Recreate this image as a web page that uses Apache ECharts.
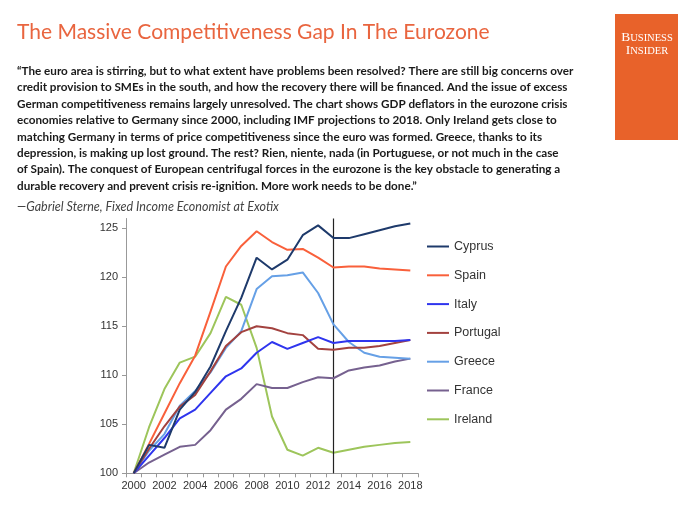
<!DOCTYPE html>
<html>
<head>
<meta charset="utf-8">
<script src="https://cdn.jsdelivr.net/npm/echarts@6/dist/echarts.min.js"></script>
<style>
html,body{margin:0;padding:0;background:#fff;}
#c{width:700px;height:525px;}
</style>
</head>
<body>
<div id="c"></div>
<script>
var years = ['2000','2001','2002','2003','2004','2005','2006','2007','2008','2009','2010','2011','2012','2013','2014','2015','2016','2017','2018'];
var yTicks = [100, 105, 110, 115, 120, 125];
var cyprus   = [100, 102.9, 102.6, 106.5, 108.3, 110.9, 114.5, 117.9, 122.0, 120.8, 121.8, 124.3, 125.3, 124.0, 124.0, 124.4, 124.8, 125.2, 125.5];
var spain    = [100, 103.0, 106.1, 109.2, 112.0, 116.5, 121.1, 123.2, 124.7, 123.6, 122.8, 122.9, 122.0, 121.0, 121.1, 121.1, 120.9, 120.8, 120.7];
var italy    = [100, 101.8, 103.6, 105.6, 106.5, 108.2, 109.9, 110.7, 112.3, 113.4, 112.7, 113.3, 113.9, 113.3, 113.5, 113.5, 113.5, 113.5, 113.6];
var portugal = [100, 102.5, 104.8, 106.8, 108.0, 110.4, 113.0, 114.4, 115.0, 114.8, 114.3, 114.1, 112.7, 112.6, 112.8, 112.8, 113.0, 113.3, 113.6];
var greece   = [100, 102.3, 104.0, 106.9, 108.4, 110.3, 112.8, 114.5, 118.8, 120.1, 120.2, 120.5, 118.4, 115.2, 113.4, 112.3, 111.9, 111.8, 111.7];
var france   = [100, 101.1, 101.9, 102.7, 102.9, 104.4, 106.5, 107.6, 109.1, 108.7, 108.7, 109.3, 109.8, 109.7, 110.5, 110.8, 111.0, 111.4, 111.7];
var ireland  = [100, 104.7, 108.6, 111.3, 111.9, 114.3, 118.0, 117.2, 112.8, 105.8, 102.4, 101.8, 102.6, 102.1, 102.4, 102.7, 102.9, 103.1, 103.2];
var projectionStart = '2013';

var seriesNames = ['Cyprus','Spain','Italy','Portugal','Greece','France','Ireland'];
var seriesData = [cyprus, spain, italy, portugal, greece, france, ireland];
var seriesColors = ['#1E3A6B','#F9603B','#2F35EE','#A3423F','#66A0E6','#76618F','#9DC55B'];

var titleText = 'The Massive Competitiveness Gap In The Eurozone';
var quoteLines = [
  '\u201CThe euro area is stirring, but to what extent have problems been resolved? There are still big concerns over',
  'credit provision to SMEs in the south, and how the recovery there will be financed. And the issue of excess',
  'German competitiveness remains largely unresolved. The chart shows GDP deflators in the eurozone crisis',
  'economies relative to Germany since 2000, including IMF projections to 2018. Only Ireland gets close to',
  'matching Germany in terms of price competitiveness since the euro was formed. Greece, thanks to its',
  'depression, is making up lost ground. The rest? Rien, niente, nada (in Portuguese, or not much in the case',
  'of Spain). The conquest of European centrifugal forces in the eurozone is the key obstacle to generating a',
  'durable recovery and prevent crisis re-ignition. More work needs to be done.\u201D'
];
var attribution = '\u2014Gabriel Sterne, Fixed Income Economist at Exotix';

// fit font sizes to target widths
var cv = document.createElement('canvas').getContext('2d');
function fitSize(text, family, weight, style, target) {
  cv.font = (style||'normal') + ' ' + (weight||'normal') + ' 20px ' + family;
  var w = cv.measureText(text).width;
  return 20 * target / w;
}
var titleFam = 'Lato, "Open Sans", sans-serif';
var quoteFam = 'Lato, "Open Sans", sans-serif';
var titleSize = fitSize(titleText, titleFam, 'normal', 'normal', 473);
var quoteSize = fitSize(quoteLines[0], quoteFam, 'bold', 'normal', 557);
var attrSize = fitSize(attribution, quoteFam, 'normal', 'italic', 262);

var graphics = [];
graphics.push({type:'text', silent:true, style:{x:17, y:32, text:titleText, fill:'#E9653F', font:'normal ' + titleSize.toFixed(2) + 'px ' + titleFam, verticalAlign:'middle', align:'left'}});
for (var i = 0; i < quoteLines.length; i++) {
  graphics.push({type:'text', silent:true, style:{x:17, y:71 + i*16.45, text:quoteLines[i], fill:'#1a1a1a', font:'bold ' + quoteSize.toFixed(2) + 'px ' + quoteFam, verticalAlign:'middle', align:'left'}});
}
graphics.push({type:'text', silent:true, style:{x:17, y:207, text:attribution, fill:'#444', font:'italic normal ' + attrSize.toFixed(2) + 'px ' + quoteFam, verticalAlign:'middle', align:'left'}});
graphics.push({type:'rect', silent:true, shape:{x:615, y:14, width:63, height:126}, style:{fill:'#E8622A'}});
graphics.push({type:'text', silent:true, style:{x:647, y:37, text:'{b|B}{s|USINESS}', fill:'#fff', align:'center', verticalAlign:'middle',
  rich:{b:{fontFamily:'"Liberation Serif", serif', fontSize:13.5, fill:'#fff', verticalAlign:'bottom'}, s:{fontFamily:'"Liberation Serif", serif', fontSize:10.5, fill:'#fff', verticalAlign:'bottom'}}}});
graphics.push({type:'text', silent:true, style:{x:647, y:50, text:'{b|I}{s|NSIDER}', fill:'#fff', align:'center', verticalAlign:'middle',
  rich:{b:{fontFamily:'"Liberation Serif", serif', fontSize:13.5, fill:'#fff', verticalAlign:'bottom'}, s:{fontFamily:'"Liberation Serif", serif', fontSize:10.5, fill:'#fff', verticalAlign:'bottom'}}}});

var series = seriesNames.map(function(n, k){
  var s = {
    name: n, type: 'line', data: seriesData[k], symbol: 'none', smooth: false,
    lineStyle: {width: 2, color: seriesColors[k]}, itemStyle: {color: seriesColors[k]},
    z: 10 - k, animation: false
  };
  if (k === 0) {
    s.markLine = {silent:true, symbol:'none', label:{show:false}, animation:false,
      lineStyle:{color:'#222', width:1.2, type:'solid'},
      data:[{xAxis: projectionStart}]};
  }
  return s;
});

var chart = echarts.init(document.getElementById('c'), null, {renderer:'canvas'});
chart.setOption({
  animation: false,
  backgroundColor: '#fff',
  graphic: graphics,
  grid: {left:126, top:218.5, width:292, bottom:51.7, containLabel:false},
  legend: {
    orient:'vertical', left:427, top:238, padding:0, itemWidth:22, itemHeight:14, itemGap:14.8,
    icon: 'path://M0,6 L22,6 L22,8 L0,8 Z',
    textStyle:{fontFamily:'"Liberation Sans", Arial, sans-serif', fontSize:12.5, color:'#333'},
    data: seriesNames
  },
  xAxis: {
    type:'category', data: years, boundaryGap:true,
    axisLine:{lineStyle:{color:'#999', width:1}},
    axisTick:{show:true, interval:0, length:4, alignWithLabel:false, lineStyle:{color:'#999'}},
    axisLabel:{interval:1, margin:7, fontFamily:'"Liberation Sans", Arial, sans-serif', fontSize:11, color:'#333'},
    splitLine:{show:false}
  },
  yAxis: {
    type:'value', min:100, max:126, interval:5,
    axisLine:{show:true, lineStyle:{color:'#999', width:1}},
    axisTick:{show:true, length:4, lineStyle:{color:'#999'}},
    axisLabel:{showMaxLabel:false, margin:8, fontFamily:'"Liberation Sans", Arial, sans-serif', fontSize:11, color:'#333',
      formatter:function(v){ return yTicks.indexOf(v) >= 0 ? String(v) : ''; }},
    splitLine:{show:false}
  },
  series: series
});
chart.setOption({legend:{top:240, itemGap:15.8}});
</script>
</body>
</html>
